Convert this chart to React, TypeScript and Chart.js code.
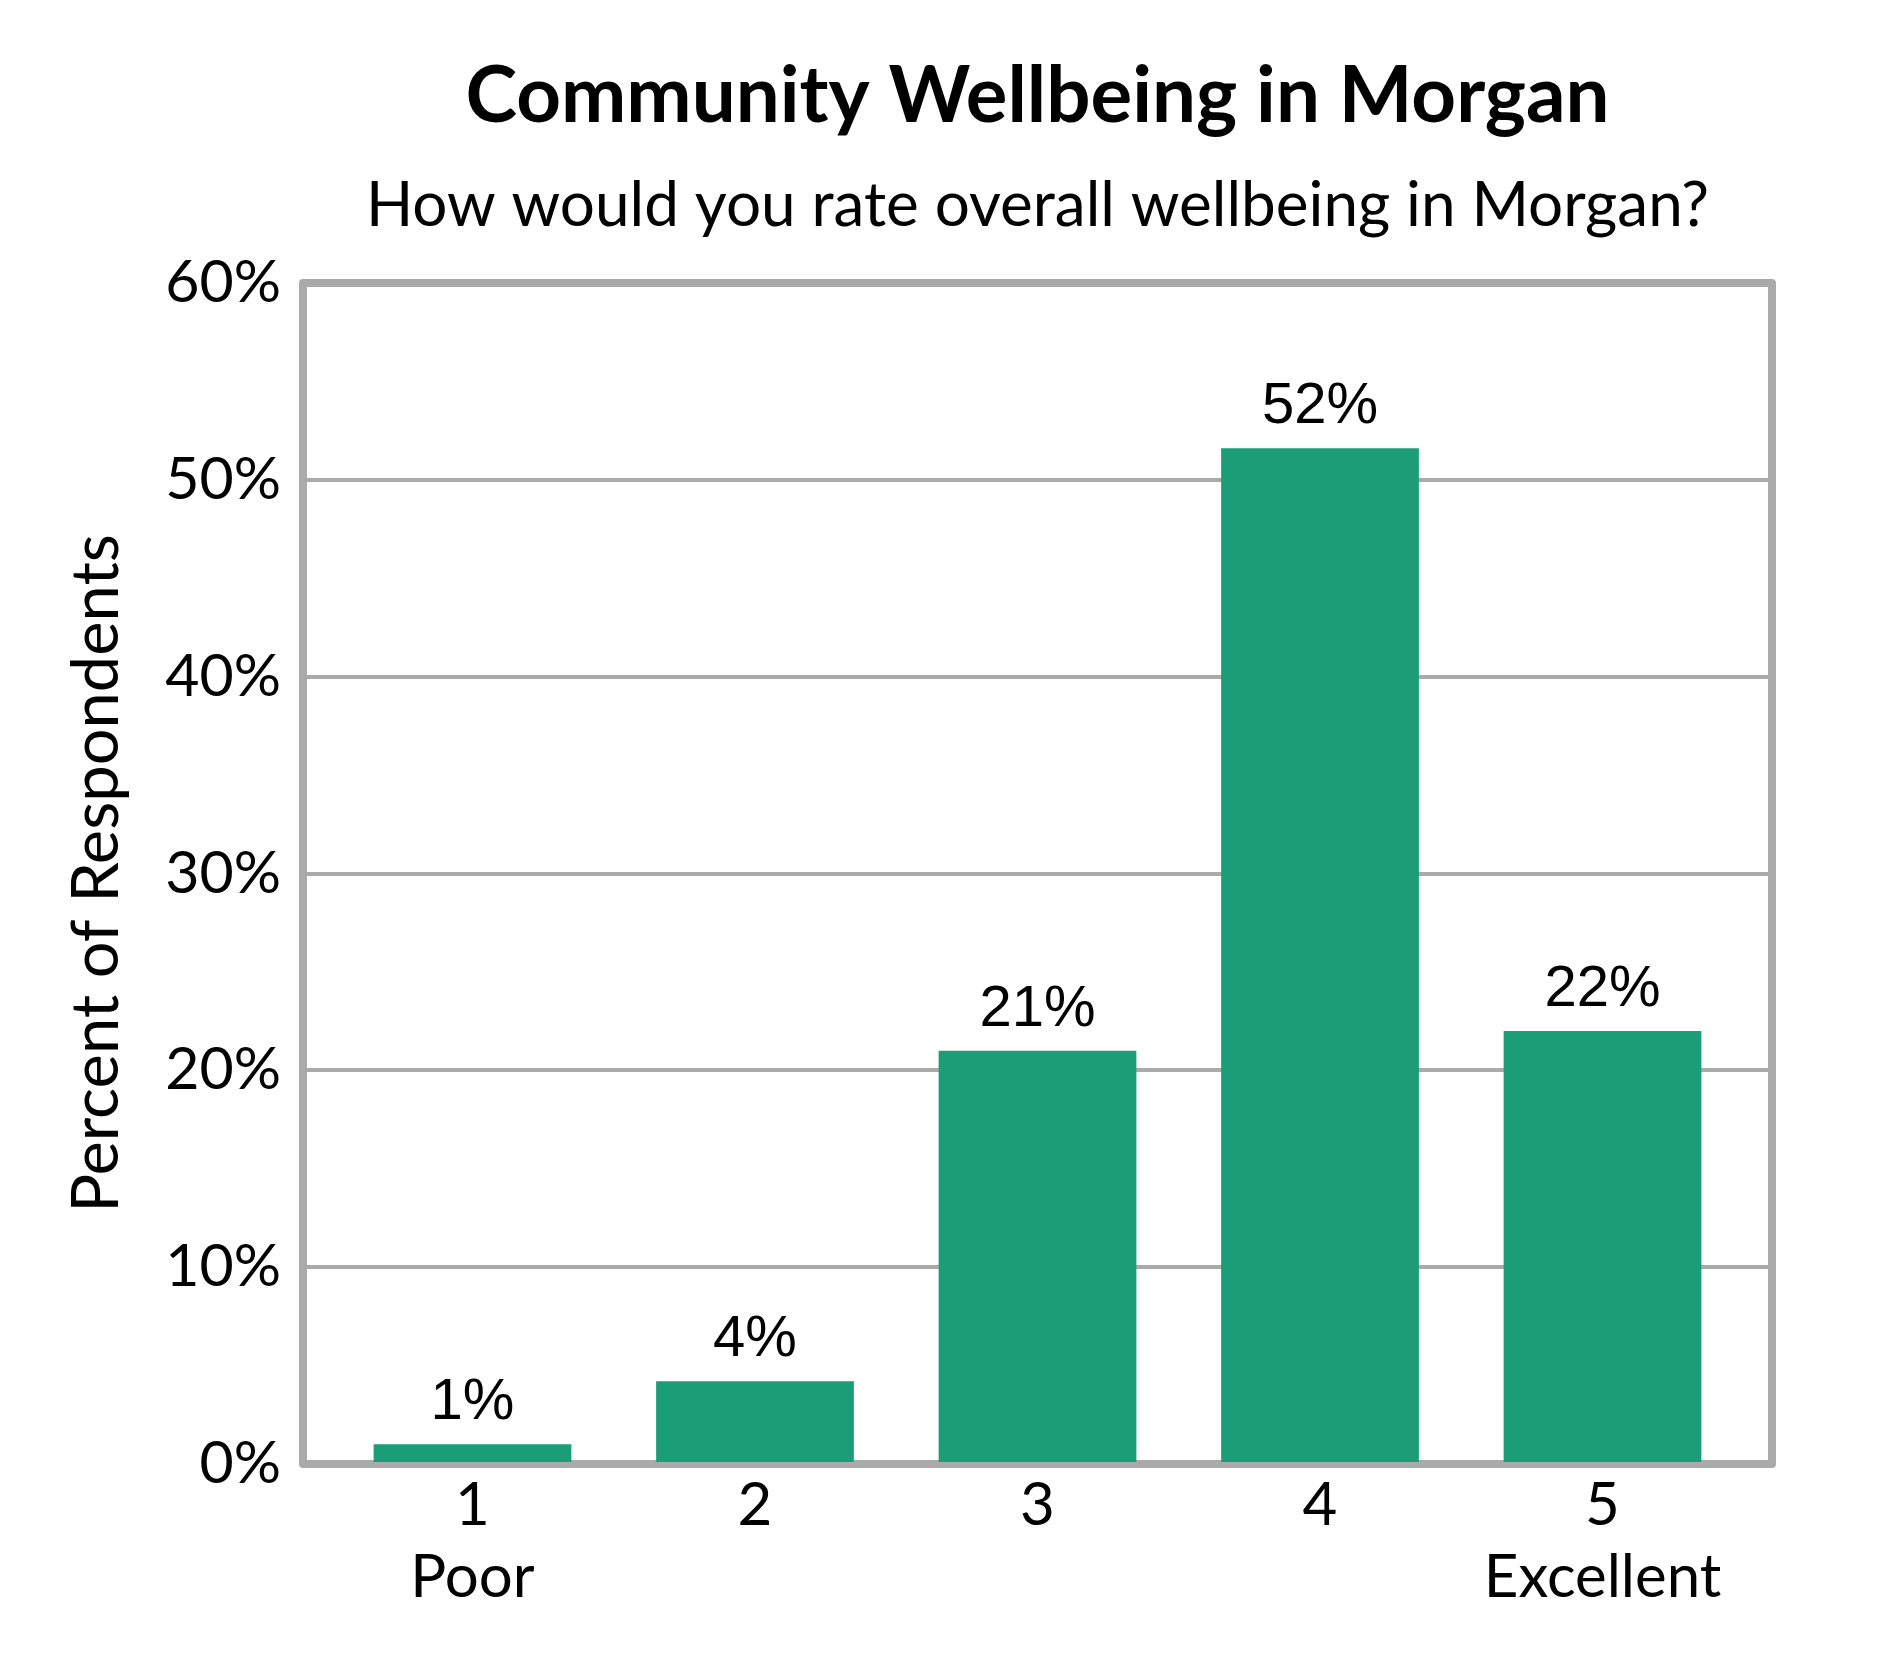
import { useEffect, useRef } from "react"
import { Chart, registerables } from "chart.js"

Chart.register(...registerables)

const ratings = [1, 2, 3, 4, 5]
const ratingNames = ["Poor", "", "", "", "Excellent"]
const percents = [1.0, 4.2, 21.0, 51.6, 22.0]
const percentLabels = ["1%", "4%", "21%", "52%", "22%"]
const yTicks = [0, 10, 20, 30, 40, 50, 60]

const chartTitle = "Community Wellbeing in Morgan"
const chartSubtitle = "How would you rate overall wellbeing in Morgan?"
const yAxisTitle = "Percent of Respondents"

const GRAY = "#aaaaaa"
const GREEN = "#1b9e77"
const FONT = "Lato"

// frame round the plot, drawn under the bars
const framePlugin = {
  id: "frame",
  beforeDatasetsDraw(chart: Chart) {
    const { ctx, chartArea: a } = chart
    ctx.save()
    ctx.strokeStyle = GRAY
    ctx.lineWidth = 8
    ctx.lineJoin = "round"
    ctx.strokeRect(a.left, a.top, a.right - a.left, a.bottom - a.top)
    ctx.restore()
  },
}

// value labels above bars
const valueLabelPlugin = {
  id: "valueLabels",
  afterDatasetsDraw(chart: Chart) {
    const { ctx } = chart
    const meta = chart.getDatasetMeta(0)
    ctx.save()
    ctx.fillStyle = "#000"
    ctx.font = '58px "Liberation Sans"'
    ctx.textAlign = "center"
    ctx.textBaseline = "alphabetic"
    meta.data.forEach((bar: any, i: number) => {
      ctx.fillText(percentLabels[i], bar.x, bar.y - 25)
    })
    ctx.restore()
  },
}

// title + subtitle centred over the plot area
const headingPlugin = {
  id: "heading",
  afterDraw(chart: Chart) {
    const { ctx, chartArea: a } = chart
    const cx = (a.left + a.right) / 2
    ctx.save()
    ctx.fillStyle = "#000"
    ctx.textAlign = "center"
    ctx.textBaseline = "alphabetic"
    ctx.font = `bold 78px ${FONT}`
    ctx.fillText(chartTitle, cx, 122)
    ctx.font = `62px ${FONT}`
    ctx.fillText(chartSubtitle, cx, 226)
    ctx.restore()
  },
}

export default function App() {
  const canvasRef = useRef<HTMLCanvasElement | null>(null)
  const chartInstance = useRef<Chart | null>(null)

  useEffect(() => {
    if (!canvasRef.current) return

    if (chartInstance.current) {
      chartInstance.current.destroy()
    }

    chartInstance.current = new Chart(canvasRef.current, {
      type: "bar",
      data: {
        datasets: [
          {
            data: ratings.map((r, i) => ({ x: r, y: percents[i] })),
            backgroundColor: GREEN,
            borderWidth: 0,
            barPercentage: 0.7,
            categoryPercentage: 1.0,
          },
        ],
      },
      options: {
        animation: false,
        responsive: true,
        maintainAspectRatio: false,
        devicePixelRatio: 1,
        layout: {
          padding: { top: 283, right: 118, left: 0, bottom: 0 },
        },
        plugins: {
          legend: { display: false },
          tooltip: { enabled: false },
          title: { display: false },
        },
        scales: {
          x: {
            type: "linear",
            min: 0.4,
            max: 5.6,
            offset: false,
            grid: { display: false, drawTicks: false, offset: false },
            border: { display: false },
            afterBuildTicks: (scale: any) => {
              scale.ticks = ratings.map((r) => ({ value: r }))
            },
            afterFit: (scale: any) => {
              scale.height = 216
            },
            ticks: {
              autoSkip: false,
              maxRotation: 0,
              padding: 6,
              color: "#000",
              font: { family: FONT, size: 60, lineHeight: 1.2 },
              callback: (v: any) => {
                const i = ratings.indexOf(Number(v))
                return ratingNames[i] ? [String(v), ratingNames[i]] : String(v)
              },
            },
          },
          y: {
            min: 0,
            max: 60,
            grid: { color: GRAY, lineWidth: 4, drawTicks: false },
            border: { display: false },
            afterBuildTicks: (scale: any) => {
              scale.ticks = yTicks.map((t) => ({ value: t }))
            },
            afterFit: (scale: any) => {
              scale.width = 303
            },
            ticks: {
              padding: 22,
              color: "#000",
              font: { family: FONT, size: 59 },
              callback: (v: any) => `${v}%`,
            },
            title: {
              display: true,
              text: yAxisTitle,
              color: "#000",
              font: { family: FONT, size: 65, lineHeight: 1.2 },
              padding: { top: 58, bottom: 0 },
            },
          },
        },
      },
      plugins: [framePlugin, valueLabelPlugin, headingPlugin],
    } as any)

    return () => {
      if (chartInstance.current) {
        chartInstance.current.destroy()
        chartInstance.current = null
      }
    }
  }, [])

  return (
    <div style={{ position: "absolute", left: 0, top: 0, width: 1890, height: 1680, background: "#fff" }}>
      <canvas ref={canvasRef} />
    </div>
  )
}
